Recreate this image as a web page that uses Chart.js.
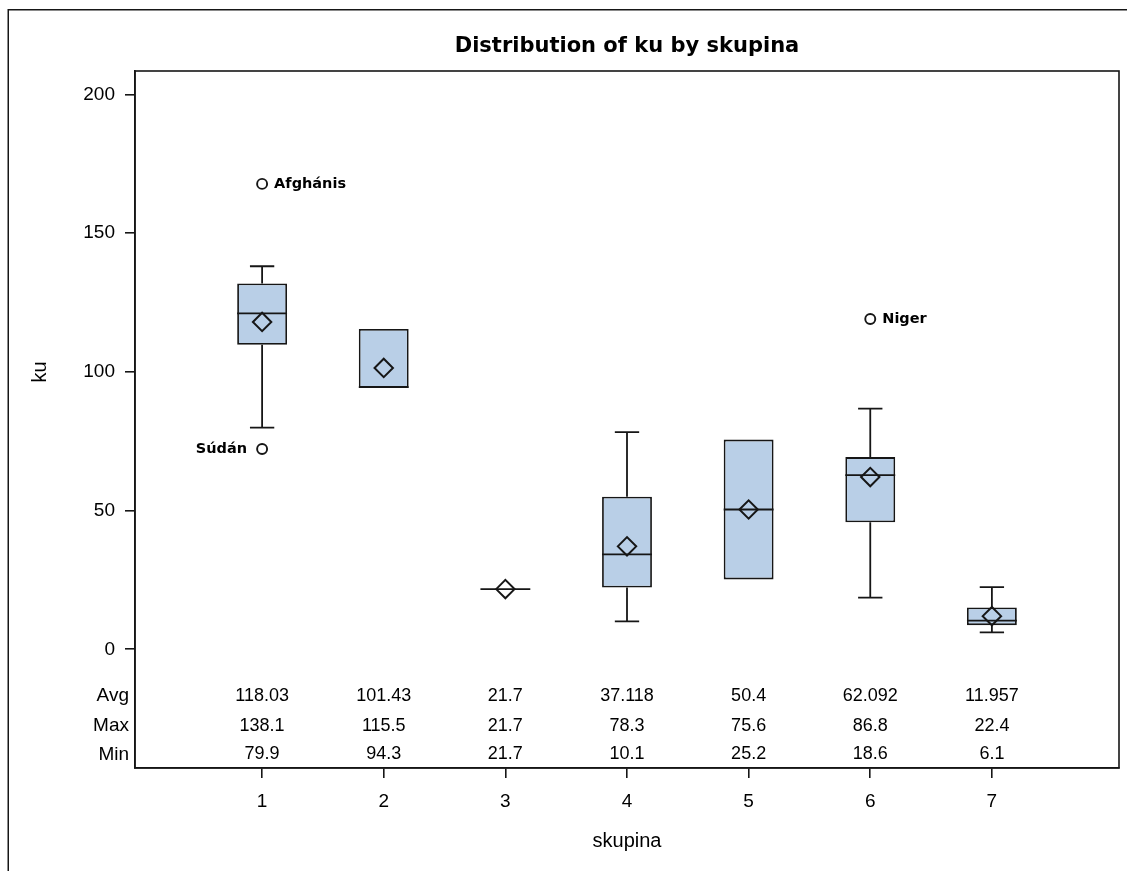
<!DOCTYPE html>
<html>
<head>
<meta charset="utf-8">
<title>Distribution of ku by skupina</title>
<script src="https://cdn.jsdelivr.net/npm/chart.js@4.4.1/dist/chart.umd.min.js"></script>
<style>
  html, body { margin: 0; padding: 0; background: #fff; }
  canvas { display: block; }
</style>
</head>
<body>
<canvas id="c" width="1127" height="871"></canvas>
<script>
// skupina groups on the x axis
const groups = [1, 2, 3, 4, 5, 6, 7];
// box statistics of ku per group
const q1      = [109.8, 94.3, 21.7, 22.3, 25.2, 45.8, 8.7];
const medians = [121.1, 94.5, 21.7, 34.2, 50.4, 62.8, 10.3];
const q3      = [131.9, 115.5, 21.7, 55.0, 75.6, 69.3, 15.1];
const avgs    = [118.03, 101.43, 21.7, 37.118, 50.4, 62.092, 11.957];
const maxs    = [138.1, 115.5, 21.7, 78.3, 75.6, 86.8, 22.4];
const mins    = [79.9, 94.3, 21.7, 10.1, 25.2, 18.6, 6.1];
// labelled outliers
const outlierGroups = [1, 1, 6];
const outlierValues = [167.8, 72.2, 119.1];
const outlierNames  = ['Afghánis', 'Súdán', 'Niger'];
// y axis tick values and statistics table rows
const yTickValues = [0, 50, 100, 150, 200];
const statRowNames = ['Avg', 'Max', 'Min'];
const statRowValues = [avgs, maxs, mins];

const INK = '#161616';
const BOX_FILL = '#B9CFE7';
const CAP_HALF = 0.1;      // half width of whisker caps, in x units
const MEDIAN_HALF = 0.205; // half width of the box, in x units
const SANS = '"Liberation Sans", Arial, sans-serif';
const WIDE = '"DejaVu Sans", Verdana, sans-serif';

// whisker segments (line breaks at null points)
const whiskerPts = [];
groups.forEach((g, i) => {
  if (maxs[i] > q3[i]) {
    whiskerPts.push({x: g, y: q3[i]}, {x: g, y: maxs[i]}, {x: g, y: null},
                    {x: g - CAP_HALF, y: maxs[i]}, {x: g + CAP_HALF, y: maxs[i]}, {x: g, y: null});
  }
  if (mins[i] < q1[i]) {
    whiskerPts.push({x: g, y: q1[i]}, {x: g, y: mins[i]}, {x: g, y: null},
                    {x: g - CAP_HALF, y: mins[i]}, {x: g + CAP_HALF, y: mins[i]}, {x: g, y: null});
  }
});
const medianPts = [];
groups.forEach((g, i) => {
  medianPts.push({x: g - MEDIAN_HALF, y: medians[i]}, {x: g + MEDIAN_HALF, y: medians[i]}, {x: g, y: null});
});

// outer page frame
const pageFrame = {
  id: 'pageFrame',
  beforeDraw(chart) {
    const ctx = chart.ctx;
    ctx.save();
    ctx.strokeStyle = INK;
    ctx.lineWidth = 1.5;
    ctx.strokeRect(8.25, 9.75, 1400, 1400);
    ctx.restore();
  }
};

// plot frame, y title, statistics table and outlier labels
const annotations = {
  id: 'annotations',
  afterDatasetsDraw(chart) {
    const {ctx, chartArea: a, scales: {x, y}} = chart;
    ctx.save();
    ctx.strokeStyle = INK;
    ctx.lineWidth = 1.6;
    ctx.strokeRect(a.left, a.top, a.right - a.left, a.bottom - a.top);

    ctx.fillStyle = '#000';
    // y axis title
    ctx.save();
    ctx.font = '20px ' + SANS;
    ctx.textAlign = 'center';
    ctx.textBaseline = 'middle';
    ctx.translate(40, (y.getPixelForValue(yTickValues[0]) + y.getPixelForValue(yTickValues[yTickValues.length - 1])) / 2);
    ctx.rotate(-Math.PI / 2);
    ctx.fillText('ku', 0, 0);
    ctx.restore();

    // statistics table inside the plot
    const rowOffsets = [72, 42, 13.5];
    ctx.textBaseline = 'middle';
    statRowValues.forEach((vals, r) => {
      const yy = a.bottom - rowOffsets[r];
      ctx.font = '19px ' + SANS;
      ctx.textAlign = 'right';
      ctx.fillText(statRowNames[r], a.left - 6, yy);
      ctx.font = '18px ' + SANS;
      ctx.textAlign = 'center';
      groups.forEach((g, i) => ctx.fillText(String(vals[i]), x.getPixelForValue(g), yy));
    });

    // outlier labels
    const meta = chart.getDatasetMeta(4);
    const sides = ['right', 'left', 'right'];
    ctx.font = 'bold 14.5px ' + WIDE;
    meta.data.forEach((pt, i) => {
      if (sides[i] === 'right') {
        ctx.textAlign = 'left';
        ctx.fillText(outlierNames[i], pt.x + 12, pt.y);
      } else {
        ctx.textAlign = 'right';
        ctx.fillText(outlierNames[i], pt.x - 15, pt.y);
      }
    });
    ctx.restore();
  }
};

new Chart(document.getElementById('c'), {
  type: 'scatter',
  data: {
    datasets: [
      {
        type: 'bar', label: 'Box',
        data: groups.map((g, i) => ({x: g, y: [q1[i], q3[i]]})),
        backgroundColor: BOX_FILL, borderColor: INK, borderWidth: 1.8, borderSkipped: false,
        categoryPercentage: 1, barPercentage: 2 * MEDIAN_HALF, order: 4
      },
      {
        label: 'Whiskers', data: whiskerPts, showLine: true, spanGaps: false,
        borderColor: INK, borderWidth: 1.8, pointRadius: 0, order: 3
      },
      {
        label: 'Median', data: medianPts, showLine: true, spanGaps: false,
        borderColor: INK, borderWidth: 1.8, pointRadius: 0, order: 2
      },
      {
        label: 'Mean', data: groups.map((g, i) => ({x: g, y: avgs[i]})),
        pointStyle: 'rectRot', pointRadius: 9.2, borderWidth: 2,
        borderColor: INK, backgroundColor: 'rgba(0,0,0,0)', order: 1
      },
      {
        label: 'Outliers', data: outlierGroups.map((g, i) => ({x: g, y: outlierValues[i]})),
        pointStyle: 'circle', pointRadius: 5, borderWidth: 1.9,
        borderColor: INK, backgroundColor: 'rgba(0,0,0,0)', order: 0
      }
    ]
  },
  options: {
    responsive: false,
    animation: false,
    layout: { autoPadding: false, padding: { top: 0, right: 8, bottom: 0, left: 0 } },
    plugins: {
      legend: { display: false },
      tooltip: { enabled: false },
      title: {
        display: true, fullSize: false,
        text: 'Distribution of ku by skupina',
        color: '#000',
        font: { family: WIDE, size: 21, weight: 'bold', lineHeight: 1.2 },
        padding: { top: 34, bottom: 11.8 }
      }
    },
    scales: {
      x: {
        type: 'linear', min: -0.045, max: 8.045, offset: false,
        afterBuildTicks: s => { s.ticks = groups.map(v => ({value: v})); },
        afterFit: s => { s.height = 103; s.paddingLeft = 0; s.paddingRight = 0; },
        grid: { display: true, drawOnChartArea: false, drawTicks: true, tickLength: 10, color: INK, lineWidth: 1.6, offset: false },
        border: { display: true, color: INK, width: 1.6 },
        ticks: { color: '#000', padding: 12, font: { family: SANS, size: 19 } },
        title: { display: true, text: 'skupina', color: '#000', font: { family: SANS, size: 20 }, padding: { top: 0, bottom: 18 } }
      },
      y: {
        type: 'linear', min: -42.8, max: 208.5,
        afterBuildTicks: s => { s.ticks = yTickValues.map(v => ({value: v})); },
        afterFit: s => { s.width = 135; s.paddingTop = 0; s.paddingBottom = 0; },
        grid: { display: true, drawOnChartArea: false, drawTicks: true, tickLength: 10, color: INK, lineWidth: 1.6 },
        border: { display: true, color: INK, width: 1.6 },
        ticks: { color: '#000', padding: 10, font: { family: SANS, size: 19 } }
      }
    }
  },
  plugins: [pageFrame, annotations]
});
</script>
</body>
</html>
